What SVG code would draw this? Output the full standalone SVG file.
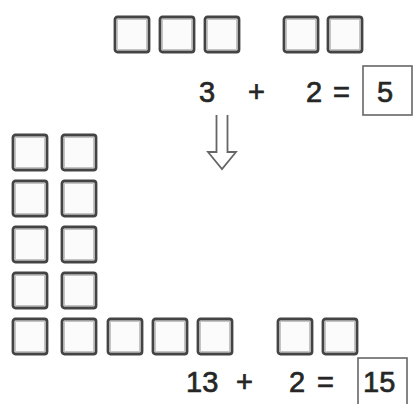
<svg xmlns="http://www.w3.org/2000/svg" width="413" height="404" viewBox="0 0 413 404">
<style>
.sq{fill:#fbfbfb;stroke:#444;stroke-width:2.8}
.sqi{fill:none;stroke:#c4c4c4;stroke-width:1}
.t{font-family:"Liberation Sans",Arial,sans-serif;font-size:29px;fill:#262626;stroke:#262626;stroke-width:0.7}
.box{fill:none;stroke:#666;stroke-width:1.6}
.arr{fill:#fff;stroke:#666;stroke-width:1.8;stroke-linejoin:miter}
</style>
<defs>
<g id="tile">
<rect class="sq" x="0" y="0" width="34" height="35" rx="2.5"/>
<rect class="sqi" x="2.5" y="2.5" width="29" height="30"/>
</g>
</defs>
<rect width="413" height="404" fill="#fff"/>
<g id="top-tiles">
<use href="#tile" x="115" y="17"/>
<use href="#tile" x="160" y="17"/>
<use href="#tile" x="205" y="17"/>
<use href="#tile" x="284" y="17"/>
<use href="#tile" x="328" y="17"/>
</g>
<g id="eq1">
<text class="t" x="199" y="102">3</text>
<text class="t" x="248" y="102">+</text>
<text class="t" x="306" y="102">2</text>
<text class="t" x="333" y="102">=</text>
<rect class="box" x="363" y="66" width="49" height="49"/>
<text class="t" x="377" y="102">5</text>
</g>
<g id="connectors">
<path class="arr" d="M216.5 115 V152 H208 L222 169 L236 152 H227.5 V115"/>
</g>
<g id="left-tiles">
<use href="#tile" x="13" y="135"/>
<use href="#tile" x="62" y="135"/>
<use href="#tile" x="13" y="181"/>
<use href="#tile" x="62" y="181"/>
<use href="#tile" x="13" y="227"/>
<use href="#tile" x="62" y="227"/>
<use href="#tile" x="13" y="273"/>
<use href="#tile" x="62" y="273"/>
<use href="#tile" x="13" y="319"/>
<use href="#tile" x="62" y="319"/>
<use href="#tile" x="108" y="319"/>
<use href="#tile" x="153" y="319"/>
<use href="#tile" x="198" y="319"/>
<use href="#tile" x="278" y="319"/>
<use href="#tile" x="323" y="319"/>
</g>
<g id="eq2">
<text class="t" x="186" y="392">13</text>
<text class="t" x="236" y="392">+</text>
<text class="t" x="289" y="392">2</text>
<text class="t" x="317" y="392">=</text>
<rect class="box" x="358" y="358" width="49" height="50"/>
<text class="t" x="363" y="392">15</text>
</g>
</svg>
